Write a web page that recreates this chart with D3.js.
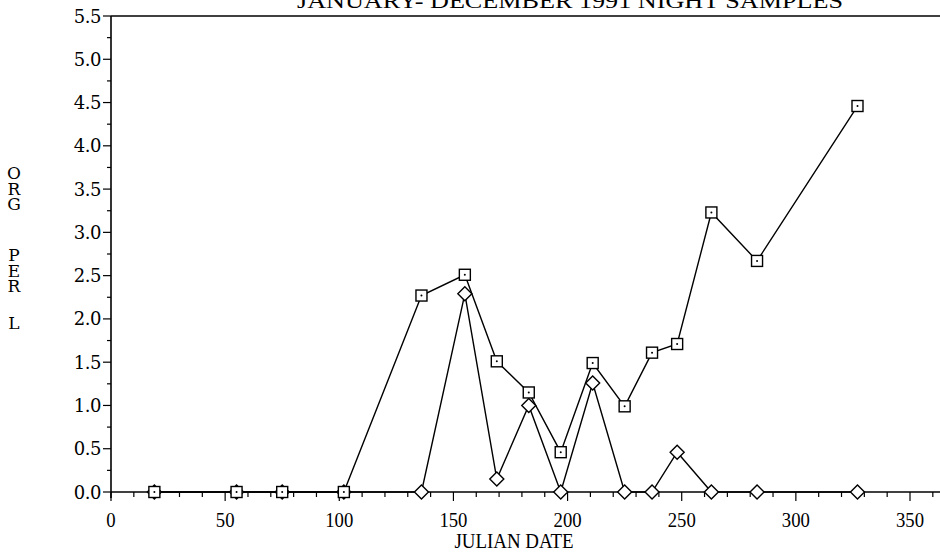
<!DOCTYPE html>
<html>
<head>
<meta charset="utf-8">
<script src="https://cdn.jsdelivr.net/npm/d3@7"></script>
<style>
  body { margin: 0; background: #fff; }
  svg { display: block; }
  .vlab { writing-mode: vertical-rl; text-orientation: upright; }
</style>
</head>
<body>
<svg id="chart" width="940" height="557"></svg>
<script>
(function () {
// ---- data ----
const title = "JANUARY- DECEMBER 1991 NIGHT SAMPLES";
const xLabel = "JULIAN DATE";
const yLabelWords = ["ORG", "PER", "L"];
const days = [19, 55, 75, 102, 136, 155, 169, 183, 197, 211, 225, 237, 248, 263, 283, 327];
const squareValues = [0, 0, 0, 0, 2.27, 2.51, 1.51, 1.15, 0.46, 1.49, 0.99, 1.61, 1.71, 3.23, 2.67, 4.46];
const diamondValues = [0, 0, 0, 0, 0, 2.29, 0.15, 1.0, 0, 1.26, 0, 0, 0.46, 0, 0, 0];
const xTicks = [0, 50, 100, 150, 200, 250, 300, 350];
const yTicks = [0, 0.5, 1.0, 1.5, 2.0, 2.5, 3.0, 3.5, 4.0, 4.5, 5.0, 5.5];

// ---- layout ----
const svg = d3.select("#chart");
const pLeft = 111, pTop = 16, pBottom = 492, pRight = 940;
const x = d3.scaleLinear().domain([0, 350]).range([pLeft, 910]);
const y = d3.scaleLinear().domain([0, 5.5]).range([pBottom, pTop]);
const serif = "'Liberation Serif', 'DejaVu Serif', serif";
const wideSerif = "'DejaVu Serif', 'Liberation Serif', serif";

// title (clipped at top like the reference)
svg.append("text")
  .attr("x", 570).attr("y", 8)
  .attr("text-anchor", "middle")
  .attr("font-family", serif).attr("font-size", 22)
  .attr("textLength", 546).attr("lengthAdjust", "spacingAndGlyphs")
  .text(title);

// frame lines
svg.append("line").attr("x1", pLeft).attr("x2", pRight).attr("y1", pTop).attr("y2", pTop)
  .attr("stroke", "#000").attr("stroke-width", 1.5);
svg.append("line").attr("x1", pLeft).attr("x2", pRight).attr("y1", pBottom).attr("y2", pBottom)
  .attr("stroke", "#000").attr("stroke-width", 1.5);
svg.append("line").attr("x1", pLeft).attr("x2", pLeft).attr("y1", pTop).attr("y2", pBottom + 6)
  .attr("stroke", "#000").attr("stroke-width", 1.6);

// y axis ticks
const yMinor = d3.range(0, 5.51, 0.25);
svg.append("g").selectAll("line").data(yMinor).join("line")
  .attr("x1", d => (Math.abs(d * 2 - Math.round(d * 2)) < 1e-6) ? pLeft - 8 : pLeft - 4)
  .attr("x2", pLeft)
  .attr("y1", d => y(d)).attr("y2", d => y(d))
  .attr("stroke", "#000").attr("stroke-width", 1.2);
svg.append("g").selectAll("text").data(yTicks).join("text")
  .attr("x", pLeft - 10).attr("y", d => y(d) + 6.5)
  .attr("text-anchor", "end")
  .attr("font-family", wideSerif).attr("font-size", 18)
  .attr("letter-spacing", -0.5)
  .text(d => d.toFixed(1));

// x axis ticks
const xMinor = d3.range(0, 361, 10);
svg.append("g").selectAll("line").data(xMinor).join("line")
  .attr("x1", d => x(d)).attr("x2", d => x(d))
  .attr("y1", pBottom)
  .attr("y2", d => d % 50 === 0 ? pBottom + 9 : pBottom + 5)
  .attr("stroke", "#000").attr("stroke-width", 1.2);
svg.append("g").selectAll("text").data(xTicks).join("text")
  .attr("x", 0).attr("y", 527)
  .attr("text-anchor", "middle")
  .attr("font-family", serif).attr("font-size", 22)
  .attr("transform", d => `translate(${x(d)},0) scale(0.85,1)`)
  .text(d => d);

// x label
svg.append("text")
  .attr("x", 0).attr("y", 548)
  .attr("text-anchor", "middle")
  .attr("font-family", serif).attr("font-size", 22)
  .attr("transform", "translate(514,0) scale(0.86,1)")
  .text(xLabel);

// y label: each word stacked vertically as one text
const wordTop = [163, 245, 313];
svg.append("g").selectAll("text").data(yLabelWords).join("text")
  .attr("class", "vlab")
  .attr("x", 14).attr("y", (d, i) => wordTop[i])
  .attr("font-family", wideSerif).attr("font-size", 17)
  .attr("letter-spacing", -4.5)
  .text(d => d);

// lines
const line = d3.line().x(d => x(d[0])).y(d => y(d[1]));
const sqData = days.map((d, i) => [d, squareValues[i]]);
const diData = days.map((d, i) => [d, diamondValues[i]]);

svg.append("path").datum(diData).attr("d", line)
  .attr("fill", "none").attr("stroke", "#000").attr("stroke-width", 1.4);
svg.append("path").datum(sqData).attr("d", line)
  .attr("fill", "none").attr("stroke", "#000").attr("stroke-width", 1.4);

// diamond markers
svg.append("g").selectAll("path").data(diData).join("path")
  .attr("transform", d => `translate(${x(d[0])},${y(d[1])})`)
  .attr("d", "M0,-7L7,0L0,7L-7,0Z")
  .attr("fill", "#fff").attr("stroke", "#000").attr("stroke-width", 1.4);

// square markers
svg.append("g").selectAll("rect").data(sqData).join("rect")
  .attr("x", d => x(d[0]) - 5.5).attr("y", d => y(d[1]) - 5.5)
  .attr("width", 11).attr("height", 11)
  .attr("fill", "#fff").attr("stroke", "#000").attr("stroke-width", 1.4);
svg.append("g").selectAll("circle").data(sqData).join("circle")
  .attr("cx", d => x(d[0])).attr("cy", d => y(d[1]))
  .attr("r", 1).attr("fill", "#000");
})();
</script>
</body>
</html>
